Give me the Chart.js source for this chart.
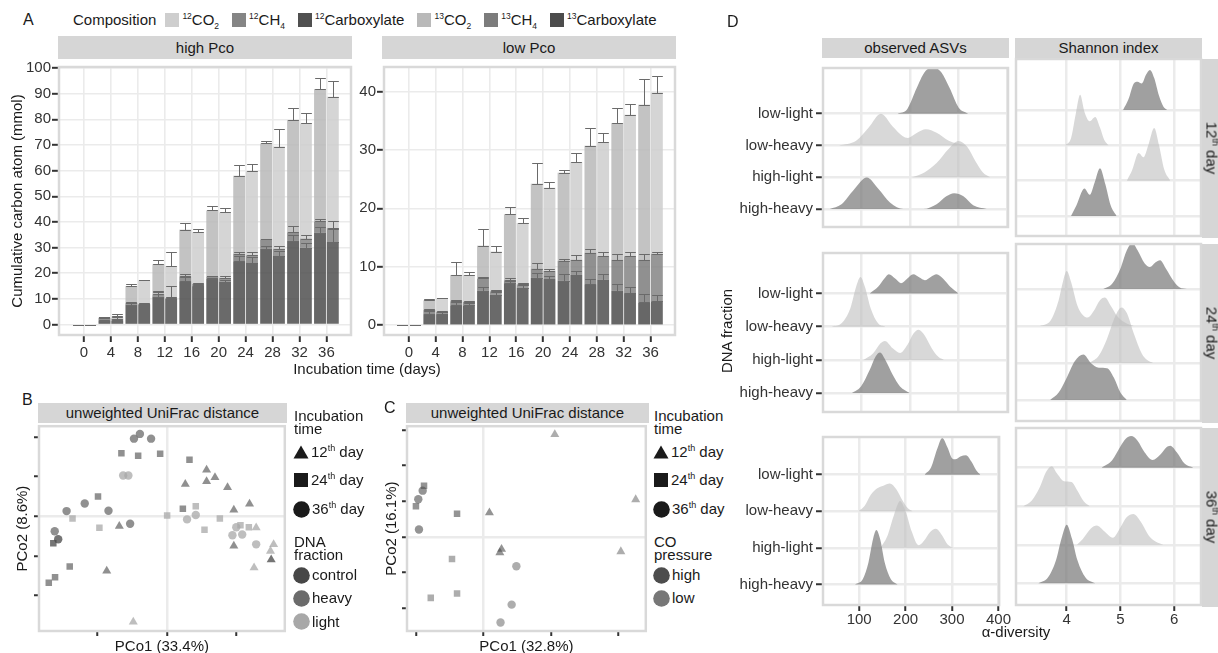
<!DOCTYPE html>
<html>
<head>
<meta charset="utf-8">
<title>Cumulative carbon, PCoA and alpha diversity</title>
<script src="https://cdn.jsdelivr.net/npm/chart.js@4.4.1/dist/chart.umd.min.js"></script>
<style>
  body { margin: 0; width: 1218px; height: 653px; position: relative; overflow: hidden; background: #fff;
         font-family: "Liberation Sans", Arial, sans-serif; color: #1a1a1a; }
  .t { position: absolute; font-size: 15px; white-space: nowrap; line-height: 16px; }
  .strip { position: absolute; background: #d6d6d6; font-size: 15px; text-align: center; white-space: nowrap; color: #1a1a1a; }
  .key { display: inline-block; width: 14px; height: 14px; margin-right: 3px; }
  .sm { font-size: 9px; line-height: 0; }
  .xs { font-size: 8.5px; line-height: 0; }
  canvas { position: absolute; }
</style>
</head>
<body>
<script>
// ---------- panel A: cumulative carbon (mmol), one pair of bars per day ----------
const days = [0, 4, 8, 12, 16, 20, 24, 28, 32, 36];
const highTicks = [0, 10, 20, 30, 40, 50, 60, 70, 80, 90, 100];
const lowTicks = [0, 10, 20, 30, 40];

// high Pco, left bar of each pair (13C)
const highCarb13 = [0, 1.6, 7.8, 10.9, 16.9, 17.9, 24.7, 29.5, 32.6, 35.8];
const highCh4_13 = [0, 1.0, 0.7, 0.9, 1.9, 0.9, 2.9, 3.7, 3.4, 4.4];
const highCo2_13 = [0, 0.2, 6.5, 11.7, 18.2, 25.7, 30.4, 37.4, 43.7, 51.6];
const highCarb13Err = [0, 0.2, 0.6, 2.0, 1.5, 0.4, 2.0, 1.0, 2.4, 2.4];
const highCh4_13Err = [0, 0.3, 0.3, 1.3, 0.8, 0.3, 0.6, 0.3, 2.3, 1.0];
const highCo2_13Err = [0, 0.2, 0.9, 1.6, 2.5, 1.7, 4.4, 0.9, 4.6, 4.4];
// high Pco, right bar (12C)
const highCarb12 = [0, 1.4, 7.9, 10.0, 15.0, 16.7, 24.2, 26.7, 29.9, 32.2];
const highCh4_12 = [0, 0.9, 0.2, 0.3, 0.9, 1.5, 2.8, 2.8, 3.6, 5.4];
const highCo2_12 = [0, 0.9, 9.2, 12.5, 20.1, 25.5, 32.8, 39.9, 44.9, 51.2];
const highCarb12Err = [0, 0.3, 0.2, 5.2, 0.4, 0.6, 2.0, 1.8, 2.0, 4.9];
const highCh4_12Err = [0, 0.5, 0.2, 0.3, 0.5, 0.6, 1.2, 1.2, 1.6, 2.6];
const highCo2_12Err = [0, 0.9, 0.1, 5.4, 1.3, 1.7, 2.9, 6.9, 4.0, 6.3];
// low Pco, left bar (13C)
const lowCarb13 = [0, 1.9, 3.4, 5.9, 7.2, 8.1, 7.6, 7.0, 5.9, 3.9];
const lowCh4_13 = [0, 0.7, 0.7, 2.1, 0.5, 1.6, 3.4, 5.4, 5.3, 7.3];
const lowCo2_13 = [0, 1.65, 4.5, 5.6, 11.3, 14.5, 15.1, 18.3, 23.4, 26.5];
const lowCarb13Err = [0, 0.5, 0.5, 0.6, 0.3, 0.8, 1.1, 0.9, 1.2, 1.5];
const lowCh4_13Err = [0, 0.2, 0.3, 0.3, 0.3, 0.9, 0.4, 0.6, 1.0, 1.0];
const lowCo2_13Err = [0, 0.25, 2.2, 2.8, 1.3, 3.5, 0.5, 3.1, 2.5, 4.4];
// low Pco, right bar (12C)
const lowCarb12 = [0, 1.9, 3.4, 5.2, 6.4, 7.9, 8.6, 7.8, 5.5, 4.1];
const lowCh4_12 = [0, 0.4, 0.6, 0.6, 0.6, 1.4, 2.6, 4.0, 6.3, 8.1];
const lowCo2_12 = [0, 2.3, 4.6, 6.8, 10.5, 14.2, 16.7, 19.5, 24.2, 27.6];
const lowCarb12Err = [0, 0.3, 0.4, 0.4, 0.4, 0.6, 0.6, 0.9, 1.0, 1.1];
const lowCh4_12Err = [0, 0.2, 0.2, 0.2, 0.2, 0.4, 0.8, 0.7, 0.7, 0.4];
const lowCo2_12Err = [0, 0.1, 0.5, 1.0, 0.9, 1.0, 1.5, 1.6, 1.9, 2.8];

const compLabels = ['<sup class="xs">12</sup>CO<sub class="xs">2</sub>', '<sup class="xs">12</sup>CH<sub class="xs">4</sub>',
                    '<sup class="xs">12</sup>Carboxylate', '<sup class="xs">13</sup>CO<sub class="xs">2</sub>',
                    '<sup class="xs">13</sup>CH<sub class="xs">4</sub>', '<sup class="xs">13</sup>Carboxylate'];
const compColors = ['206,206,206', '133,133,133', '80,80,80', '185,185,185', '124,124,124', '76,76,76'];

// ---------- panels B and C: PCoA on unweighted UniFrac ----------
const bDay12Heavy = [[0.114, 0.117], [0.053, 0.081], [0.114, 0.088], [0.138, 0.098], [0.174, 0.073], [0.192, 0.016], [0.237, 0.031], [-0.136, -0.025], [-0.172, -0.138], [0.192, -0.075]];
const bDay12Light = [[-0.096, -0.267], [0.256, -0.029], [0.306, -0.071], [0.297, -0.088], [0.250, -0.130]];
const bDay12Control = [[0.299, -0.110]];
const bDay24Heavy = [[-0.130, 0.159], [-0.082, 0.153], [-0.019, 0.158], [0.065, 0.143], [-0.197, 0.050], [-0.278, -0.127], [-0.320, -0.154], [-0.338, -0.168], [0.046, 0.019]];
const bDay24Light = [[-0.270, -0.006], [-0.193, -0.029], [0.083, 0.025], [0.001, 0.002], [0.108, -0.034], [0.152, -0.006], [0.211, -0.023], [0.235, -0.028]];
const bDay24Control = [[-0.325, -0.068]];
const bDay36Heavy = [[-0.077, 0.208], [-0.094, 0.196], [-0.045, 0.196], [-0.235, 0.032], [-0.287, 0.013], [-0.167, 0.014], [-0.105, -0.019], [-0.321, -0.038]];
const bDay36Light = [[-0.125, 0.103], [-0.110, 0.103], [0.058, -0.008], [0.083, 0.003], [0.199, -0.028], [0.188, -0.048], [0.216, -0.046], [0.256, -0.071]];
const bDay36Control = [[-0.311, -0.058]];
const bXTicks = [-0.2, 0, 0.2];
const bYTicks = [-0.2, -0.1, 0, 0.1, 0.2];

const cDay12High = [[0.018, 0.068], [0.054, -0.034], [0.049, -0.044]];
const cDay12Low = [[0.212, 0.288], [0.452, 0.105], [0.408, -0.041]];
const cDay24High = [[-0.176, 0.144], [-0.200, 0.086], [-0.078, 0.065]];
const cDay24Low = [[-0.093, -0.062], [-0.156, -0.171], [-0.078, -0.159]];
const cDay36High = [[-0.180, 0.130], [-0.193, 0.106], [-0.191, 0.021]];
const cDay36Low = [[0.098, -0.082], [0.084, -0.190], [0.051, -0.240]];
const cXTicks = [-0.2, 0, 0.2, 0.4];
const cYTicks = [-0.2, -0.1, 0, 0.1, 0.2, 0.3];

const timeLabels = ['12', '24', '36'];
const fractionLabels = ['control', 'heavy', 'light'];
const fractionColors = ['71,71,71', '107,107,107', '168,168,168'];
const pressureLabels = ['high', 'low'];
const pressureColors = ['77,77,77', '119,119,119'];

// ---------- panel D: ridgelines of alpha diversity, [value, height in row units] ----------
const rowNames = ['high-heavy', 'high-light', 'low-heavy', 'low-light'];
const asvTicks = [100, 200, 300, 400];
const shannonTicks = [4, 5, 6];

const asv12HighHeavy = [[36, 0], [60, 0.15], [85, 0.6], [112, 0.99], [135, 0.65], [160, 0.2], [187, 0], [228, 0], [255, 0.15], [275, 0.4], [291, 0.5], [310, 0.4], [330, 0.12], [358, 0]];
const asv12HighLight = [[205, 0], [230, 0.15], [255, 0.45], [280, 0.9], [300, 1.14], [318, 0.95], [335, 0.5], [350, 0.15], [365, 0]];
const asv12LowHeavy = [[55, 0], [90, 0.15], [115, 0.55], [141, 1.0], [165, 0.6], [185, 0.3], [196, 0.24], [215, 0.4], [233, 0.51], [255, 0.4], [280, 0.15], [315, 0]];
const asv12LowLight = [[175, 0], [195, 0.15], [214, 0.8], [230, 1.3], [248, 1.46], [265, 1.3], [282, 0.8], [300, 0.2], [320, 0]];
const sh12HighHeavy = [[4.08, 0], [4.18, 0.3], [4.33, 0.78], [4.43, 0.6], [4.52, 0.95], [4.62, 1.35], [4.72, 0.9], [4.82, 0.3], [4.93, 0]];
const sh12HighLight = [[5.12, 0], [5.22, 0.3], [5.34, 0.78], [5.43, 0.66], [5.52, 1.0], [5.63, 1.49], [5.72, 1.0], [5.82, 0.3], [5.93, 0]];
const sh12LowHeavy = [[3.97, 0], [4.08, 0.2], [4.17, 0.9], [4.25, 1.43], [4.33, 0.95], [4.43, 0.68], [4.53, 0.8], [4.62, 0.5], [4.70, 0.15], [4.78, 0]];
const sh12LowLight = [[5.05, 0], [5.15, 0.3], [5.25, 0.75], [5.32, 0.8], [5.40, 0.75], [5.48, 1.0], [5.55, 1.13], [5.63, 0.9], [5.72, 0.4], [5.80, 0.1], [5.87, 0]];

const asv24HighHeavy = [[81, 0], [100, 0.2], [118, 0.7], [130, 1.1], [139, 1.22], [150, 1.0], [165, 0.55], [180, 0.2], [200, 0]];
const asv24HighLight = [[105, 0], [125, 0.2], [140, 0.5], [149, 0.57], [165, 0.35], [180, 0.21], [195, 0.45], [208, 0.8], [218, 0.91], [230, 0.75], [245, 0.35], [258, 0.1], [270, 0]];
const asv24LowHeavy = [[40, 0], [60, 0.1], [78, 0.55], [90, 1.2], [99, 1.5], [108, 1.2], [120, 0.55], [135, 0.1], [150, 0]];
const asv24LowLight = [[118, 0], [135, 0.2], [148, 0.45], [157, 0.58], [170, 0.45], [182, 0.31], [195, 0.45], [207, 0.58], [220, 0.48], [231, 0.4], [243, 0.5], [255, 0.58], [268, 0.45], [283, 0.2], [300, 0]];
const sh24HighHeavy = [[3.69, 0], [3.85, 0.2], [4.0, 0.6], [4.15, 1.05], [4.31, 1.23], [4.45, 1.0], [4.6, 0.87], [4.75, 0.86], [4.88, 0.6], [5.0, 0.2], [5.12, 0]];
const sh24HighLight = [[4.43, 0], [4.6, 0.2], [4.75, 0.65], [4.9, 1.25], [5.02, 1.5], [5.12, 1.35], [5.25, 0.8], [5.4, 0.25], [5.5, 0.08], [5.61, 0]];
const sh24LowHeavy = [[3.5, 0], [3.7, 0.15], [3.85, 0.7], [3.93, 1.2], [4.0, 1.49], [4.08, 1.2], [4.2, 0.55], [4.3, 0.3], [4.39, 0.23], [4.5, 0.4], [4.62, 0.7], [4.71, 0.77], [4.82, 0.55], [4.95, 0.25], [5.1, 0.08], [5.25, 0]];
const sh24LowLight = [[4.68, 0], [4.85, 0.15], [5.0, 0.55], [5.12, 1.05], [5.22, 1.25], [5.32, 1.05], [5.45, 0.7], [5.55, 0.6], [5.65, 0.72], [5.74, 0.78], [5.85, 0.55], [6.0, 0.2], [6.1, 0.05], [6.24, 0]];

const asv36HighHeavy = [[91, 0], [108, 0.15], [120, 0.6], [130, 1.25], [137, 1.49], [145, 1.25], [155, 0.6], [168, 0.15], [183, 0]];
const asv36HighLight = [[146, 0], [160, 0.3], [175, 0.9], [188, 1.28], [200, 1.0], [213, 0.45], [228, 0.07], [240, 0.2], [252, 0.42], [265, 0.52], [278, 0.35], [290, 0.1], [303, 0]];
const asv36LowHeavy = [[98, 0], [112, 0.15], [125, 0.45], [139, 0.63], [152, 0.7], [166, 0.76], [180, 0.6], [193, 0.3], [205, 0.08], [215, 0]];
const asv36LowLight = [[241, 0], [255, 0.2], [268, 0.7], [279, 1.0], [290, 0.75], [300, 0.45], [307, 0.42], [318, 0.5], [330, 0.53], [342, 0.35], [352, 0.12], [361, 0]];
const sh36HighHeavy = [[3.47, 0], [3.65, 0.15], [3.8, 0.6], [3.9, 1.15], [4.0, 1.52], [4.1, 1.15], [4.2, 0.6], [4.35, 0.15], [4.53, 0]];
const sh36HighLight = [[4.19, 0], [4.3, 0.15], [4.45, 0.42], [4.56, 0.5], [4.7, 0.35], [4.86, 0.18], [5.0, 0.45], [5.12, 0.72], [5.24, 0.8], [5.38, 0.6], [5.55, 0.2], [5.7, 0.05], [5.8, 0]];
const sh36LowHeavy = [[3.19, 0], [3.35, 0.15], [3.5, 0.5], [3.62, 0.9], [3.72, 1.04], [3.82, 0.85], [3.95, 0.65], [4.09, 0.63], [4.2, 0.4], [4.32, 0.12], [4.43, 0]];
const sh36LowLight = [[4.65, 0], [4.85, 0.2], [5.0, 0.55], [5.1, 0.75], [5.2, 0.82], [5.32, 0.7], [5.45, 0.4], [5.6, 0.2], [5.75, 0.35], [5.85, 0.52], [5.93, 0.57], [6.05, 0.4], [6.2, 0.1], [6.36, 0]];

// fill shade of each ridge row, same order as rowNames
const ridgeShade = ['rgba(120,120,120,0.7)', 'rgba(190,190,190,0.6)', 'rgba(190,190,190,0.6)', 'rgba(120,120,120,0.7)'];

// ================= drawing =================
Chart.defaults.font.family = '"Liberation Sans", Arial, sans-serif';
Chart.defaults.font.size = 15;
Chart.defaults.color = '#333';

// ggplot-like panel border on top of everything
Chart.register({
  id: 'frame',
  afterDraw(chart) {
    const a = chart.chartArea, c = chart.ctx;
    c.save();
    c.strokeStyle = '#d9d9d9';
    c.lineWidth = 2.5;
    c.strokeRect(a.left, a.top, a.right - a.left, a.bottom - a.top);
    c.restore();
  }
});

// upper whiskers on each stacked segment, caps at both ends
const errorBars = {
  id: 'errorBars',
  afterDatasetsDraw(chart) {
    const ctx = chart.ctx, ys = chart.scales.y, sets = chart.data.datasets;
    ctx.save();
    ctx.strokeStyle = '#6a6a6a';
    ctx.lineWidth = 1;
    sets.forEach((ds, di) => {
      chart.getDatasetMeta(di).data.forEach((bar, i) => {
        let top = 0;
        for (let k = 0; k <= di; k++) if (sets[k].stack === ds.stack) top += sets[k].data[i].y;
        const y0 = Math.round(ys.getPixelForValue(top)) + 0.5;
        const y1 = Math.round(ys.getPixelForValue(top + ds.errors[i])) + 0.5;
        const x = Math.round(bar.x) + 0.5, half = bar.width * 0.45;
        ctx.beginPath();
        ctx.moveTo(x, y0); ctx.lineTo(x, y1);
        ctx.moveTo(x - half, y0); ctx.lineTo(x + half, y0);
        ctx.moveTo(x - half, y1); ctx.lineTo(x + half, y1);
        ctx.stroke();
      });
    });
    ctx.restore();
  }
};

function el(tag, html, css, cls) {
  const d = document.createElement(tag);
  if (cls) d.className = cls;
  d.innerHTML = html;
  d.style.cssText = css;
  document.body.appendChild(d);
  return d;
}
const centered = (html, cx, cy, extra = '') =>
  el('div', html, `left:${cx - 150}px;top:${cy - 8}px;width:300px;text-align:center;${extra}`, 't');
const strip = (html, l, t, w, h) =>
  el('div', html, `left:${l}px;top:${t}px;width:${w}px;height:${h}px;line-height:${h}px`, 'strip');
const rowStrip = (html, cx, cy, len) =>
  el('div', html, `left:${cx - len / 2}px;top:${cy - 10}px;width:${len}px;height:20px;line-height:20px;transform:rotate(90deg)`, 'strip');

// canvas whose chart area lands on the given page rectangle
function mount(area, leftSpace, bottomSpace) {
  const pad = 3;
  const w = leftSpace + (area.r - area.l) + pad;
  const h = pad + (area.b - area.t) + bottomSpace;
  const cv = document.createElement('canvas');
  cv.width = w; cv.height = h;
  cv.style.cssText = `left:${area.l - leftSpace}px;top:${area.t - pad}px;width:${w}px;height:${h}px`;
  document.body.appendChild(cv);
  return { ctx: cv.getContext('2d'), padding: { left: 0, top: pad, right: pad, bottom: 0 } };
}

const baseOpts = (padding) => ({
  responsive: false, animation: false, devicePixelRatio: 1,
  layout: { padding },
  plugins: { legend: { display: false }, tooltip: { enabled: false } }
});
const titleFont = { size: 15 };

// ---------- A ----------
function barPanel(area, leftSpace, yMin, yMax, yTicks, parts, yTitle, yTitlePad) {
  const m = mount(area, leftSpace, 31);
  return new Chart(m.ctx, {
    type: 'bar',
    data: {
      datasets: parts.map(p => ({
        label: p.label, stack: p.stack, errors: p.err,
        backgroundColor: `rgba(${p.rgb},0.85)`, borderWidth: 0,
        categoryPercentage: 0.95, barPercentage: 0.93,
        data: days.map((d, i) => ({ x: d, y: p.values[i] }))
      }))
    },
    options: Object.assign(baseOpts(m.padding), {
      scales: {
        x: {
          type: 'linear', stacked: true, offset: false, min: -3.7, max: 39.65,
          afterBuildTicks: s => { s.ticks = days.map(v => ({ value: v })); },
          afterFit: s => { s.height = 31; },
          border: { display: false },
          grid: { offset: false, color: '#ebebeb', lineWidth: 1.6, tickColor: '#333', tickWidth: 2, tickLength: 7 },
          ticks: { padding: 2, autoSkip: false, maxRotation: 0 }
        },
        y: {
          stacked: true, min: yMin, max: yMax,
          afterBuildTicks: s => { s.ticks = yTicks.map(v => ({ value: v })); },
          afterFit: s => { s.width = leftSpace; },
          border: { display: false },
          grid: { color: '#ebebeb', lineWidth: 1.6, tickColor: '#333', tickWidth: 2, tickLength: 7 },
          ticks: { padding: 1, autoSkip: false },
          title: { display: !!yTitle, text: yTitle, font: titleFont, color: '#1a1a1a', padding: { top: yTitlePad, bottom: 0 } }
        }
      }
    }),
    plugins: [errorBars]
  });
}

const partsFor = (c13, h13, o13, e13, c12, h12, o12, e12) => [
  { label: '13Carboxylate', stack: '13C', rgb: compColors[5], values: c13, err: e13[0] },
  { label: '13CH4', stack: '13C', rgb: compColors[4], values: h13, err: e13[1] },
  { label: '13CO2', stack: '13C', rgb: compColors[3], values: o13, err: e13[2] },
  { label: '12Carboxylate', stack: '12C', rgb: compColors[2], values: c12, err: e12[0] },
  { label: '12CH4', stack: '12C', rgb: compColors[1], values: h12, err: e12[1] },
  { label: '12CO2', stack: '12C', rgb: compColors[0], values: o12, err: e12[2] }
];

barPanel({ l: 59, t: 60, r: 351, b: 335 }, 59, -4.05, 100.4, highTicks,
  partsFor(highCarb13, highCh4_13, highCo2_13, [highCarb13Err, highCh4_13Err, highCo2_13Err],
           highCarb12, highCh4_12, highCo2_12, [highCarb12Err, highCh4_12Err, highCo2_12Err]),
  'Cumulative carbon atom (mmol)', 9);
barPanel({ l: 384, t: 60, r: 675, b: 335 }, 26, -1.67, 44.17, lowTicks,
  partsFor(lowCarb13, lowCh4_13, lowCo2_13, [lowCarb13Err, lowCh4_13Err, lowCo2_13Err],
           lowCarb12, lowCh4_12, lowCo2_12, [lowCarb12Err, lowCh4_12Err, lowCo2_12Err]),
  '', 0);

strip('high Pco', 58, 36, 294, 23);
strip('low Pco', 382, 36, 294, 23);
centered('Incubation time (days)', 367, 369);
el('div', 'A', 'left:23px;top:12px;font-size:16px', 't');

// composition legend
const legA = el('div', '<span style="margin-right:9px">Composition</span>',
  'left:73px;top:12px;display:flex;align-items:center', 't');
compLabels.forEach((lab, i) => {
  const item = document.createElement('span');
  item.style.cssText = 'display:flex;align-items:center;margin-right:13px';
  item.innerHTML = `<span class="key" style="background:rgb(${compColors[i]})"></span><span>${lab}</span>`;
  legA.appendChild(item);
});

// ---------- B and C ----------
const shapeSize = { triangle: 5.2, rect: 4.6, circle: 4.2 };
function pcoaPanel(area, leftSpace, xr, yr, xTicks, yTicks, groups, xTitle, yTitle, yTitlePad) {
  const m = mount(area, leftSpace, 26);
  const zeroGrid = c => (c.tick && c.tick.value === 0) ? '#ebebeb' : 'rgba(0,0,0,0)';
  return new Chart(m.ctx, {
    type: 'scatter',
    data: {
      datasets: groups.map(g => ({
        data: g.pts, pointStyle: g.shape, pointRadius: shapeSize[g.shape],
        backgroundColor: `rgba(${g.rgb},${g.alpha})`, pointBorderWidth: 0, borderWidth: 0
      }))
    },
    options: Object.assign(baseOpts(m.padding), {
      scales: {
        x: {
          type: 'linear', min: xr[0], max: xr[1],
          afterBuildTicks: s => { s.ticks = xTicks.map(v => ({ value: v })); },
          afterFit: s => { s.height = 26; },
          border: { display: false },
          grid: { color: zeroGrid, lineWidth: 2.5, tickColor: '#333', tickWidth: 2, tickLength: 5 },
          ticks: { display: false },
          title: { display: true, text: xTitle, font: titleFont, color: '#1a1a1a', padding: { top: 0, bottom: 1 } }
        },
        y: {
          type: 'linear', min: yr[0], max: yr[1],
          afterBuildTicks: s => { s.ticks = yTicks.map(v => ({ value: v })); },
          afterFit: s => { s.width = leftSpace; },
          border: { display: false },
          grid: { color: zeroGrid, lineWidth: 2.5, tickColor: '#333', tickWidth: 2, tickLength: 5 },
          ticks: { display: false },
          title: { display: true, text: yTitle, font: titleFont, color: '#1a1a1a', padding: { top: yTitlePad, bottom: 0 } }
        }
      }
    })
  });
}

const shapes = ['triangle', 'rect', 'circle'];
const bGroups = [
  [bDay12Control, bDay12Heavy, bDay12Light],
  [bDay24Control, bDay24Heavy, bDay24Light],
  [bDay36Control, bDay36Heavy, bDay36Light]
].flatMap((set, t) => set.map((pts, f) => ({ pts, shape: shapes[t], rgb: fractionColors[f], alpha: 0.75 })));
const cGroups = [
  [cDay12High, cDay12Low], [cDay24High, cDay24Low], [cDay36High, cDay36Low]
].flatMap((set, t) => set.map((pts, p) => ({ pts, shape: shapes[t], rgb: pressureColors[p], alpha: 0.6 })));

pcoaPanel({ l: 39, t: 424, r: 287, b: 631 }, 39, [-0.366, 0.338], [-0.29, 0.2275], bXTicks, bYTicks, bGroups,
  'PCo1 (33.4%)', 'PCo2 (8.6%)', 14);
pcoaPanel({ l: 407, t: 424, r: 648, b: 631 }, 30, [-0.2265, 0.482], [-0.264, 0.311], cXTicks, cYTicks, cGroups,
  'PCo1 (32.8%)', 'PCo2 (16.1%)', 6);

strip('unweighted UniFrac distance', 38, 403, 249, 20);
strip('unweighted UniFrac distance', 406, 403, 243, 20);
el('div', 'B', 'left:22px;top:392px;font-size:16px', 't');
el('div', 'C', 'left:384px;top:400px;font-size:16px', 't');

const icon = {
  triangle: c => `<svg width="16" height="16"><polygon points="8,1.5 15.5,14.5 0.5,14.5" fill="${c}"/></svg>`,
  rect: c => `<svg width="16" height="16"><rect x="1" y="1" width="14" height="14" fill="${c}"/></svg>`,
  circle: c => `<svg width="17" height="17"><circle cx="8.5" cy="8.5" r="8.3" fill="${c}"/></svg>`
};
function sideLegend(left, title2, labels, colors) {
  el('div', 'Incubation<br>time', `left:${left + 1}px;top:410px;line-height:12.5px`, 't');
  timeLabels.forEach((d, i) => {
    el('div', `${icon[shapes[i]]('#1a1a1a')}<span style="margin-left:2px">${d}<sup class="sm">th</sup> day</span>`,
      `left:${left}px;top:${452 + i * 28.3 - 8}px;display:flex;align-items:center`, 't');
  });
  el('div', title2, `left:${left + 1}px;top:536px;line-height:12.5px`, 't');
  labels.forEach((lab, i) => {
    el('div', `${icon.circle(`rgb(${colors[i]})`)}<span style="margin-left:2px">${lab}</span>`,
      `left:${left}px;top:${575 + i * 23.3 - 8.5}px;display:flex;align-items:center`, 't');
  });
}
sideLegend(293, 'DNA<br>fraction', fractionLabels, fractionColors);
sideLegend(653, 'CO<br>pressure', pressureLabels, pressureColors);

// ---------- D ----------
const dCols = [{ l: 823, r: 1008, x: [22.1, 401.4], ticks: asvTicks }, { l: 1016, r: 1201, x: [3.055, 6.502], ticks: shannonTicks }];
const dRows = [{ t: 59, b: 236, y: [0.434, 5.44] }, { t: 244, b: 421, y: [0.43, 5.22] }, { t: 428, b: 605, y: [0.437, 5.03] }];
const dRidges = [
  [[asv12HighHeavy, asv12HighLight, asv12LowHeavy, asv12LowLight], [sh12HighHeavy, sh12HighLight, sh12LowHeavy, sh12LowLight]],
  [[asv24HighHeavy, asv24HighLight, asv24LowHeavy, asv24LowLight], [sh24HighHeavy, sh24HighLight, sh24LowHeavy, sh24LowLight]],
  [[asv36HighHeavy, asv36HighLight, asv36LowHeavy, asv36LowLight], [sh36HighHeavy, sh36HighLight, sh36LowHeavy, sh36LowLight]]
];

dRows.forEach((row, ri) => {
  dCols.forEach((col, ci) => {
    const showY = ci === 0, showX = ri === dRows.length - 1;
    const leftSpace = showY ? 92 : 3, bottomSpace = showX ? 30 : 3;
    const m = mount({ l: col.l, r: col.r, t: row.t, b: row.b }, leftSpace, bottomSpace);
    new Chart(m.ctx, {
      type: 'line',
      data: {
        datasets: dRidges[ri][ci].map((pts, k) => ({
          data: pts.map(([x, h]) => ({ x, y: k + 1 + h })),
          fill: { value: k + 1 },
          backgroundColor: ridgeShade[k], borderColor: 'rgba(0,0,0,0)', borderWidth: 0,
          pointRadius: 0, pointHitRadius: 0, cubicInterpolationMode: 'monotone'
        }))
      },
      options: Object.assign(baseOpts(m.padding), {
        scales: {
          x: {
            type: 'linear', min: col.x[0], max: col.x[1],
            afterBuildTicks: s => { s.ticks = col.ticks.map(v => ({ value: v })); },
            afterFit: s => { s.height = bottomSpace; },
            border: { display: false },
            grid: { color: '#ebebeb', lineWidth: 2.5, drawTicks: showX, tickColor: '#333', tickWidth: 2, tickLength: 6 },
            ticks: { display: showX, padding: 0, autoSkip: false, maxRotation: 0 }
          },
          y: {
            type: 'linear', min: row.y[0], max: row.y[1],
            afterBuildTicks: s => { s.ticks = rowNames.map((n, i) => ({ value: i + 1 })); },
            afterFit: s => { s.width = leftSpace; },
            border: { display: false },
            grid: { color: '#ebebeb', lineWidth: 2.5, drawTicks: showY, tickColor: '#333', tickWidth: 2, tickLength: 7 },
            ticks: { display: showY, padding: 3, autoSkip: false, callback: v => rowNames[v - 1] }
          }
        }
      })
    });
  });
  const day = ['12', '24', '36'][ri];
  rowStrip(`${day}<sup class="sm">th</sup> day`, 1211, (row.t + row.b) / 2, row.b - row.t + 2);
});

strip('observed ASVs', 822, 38, 187, 20);
strip('Shannon index', 1015, 38, 187, 20);
centered('DNA fraction', 727, 331, 'transform:rotate(-90deg)');
centered('α-diversity', 1016, 632);
el('div', 'D', 'left:727px;top:14px;font-size:16px', 't');
</script>
</body>
</html>
